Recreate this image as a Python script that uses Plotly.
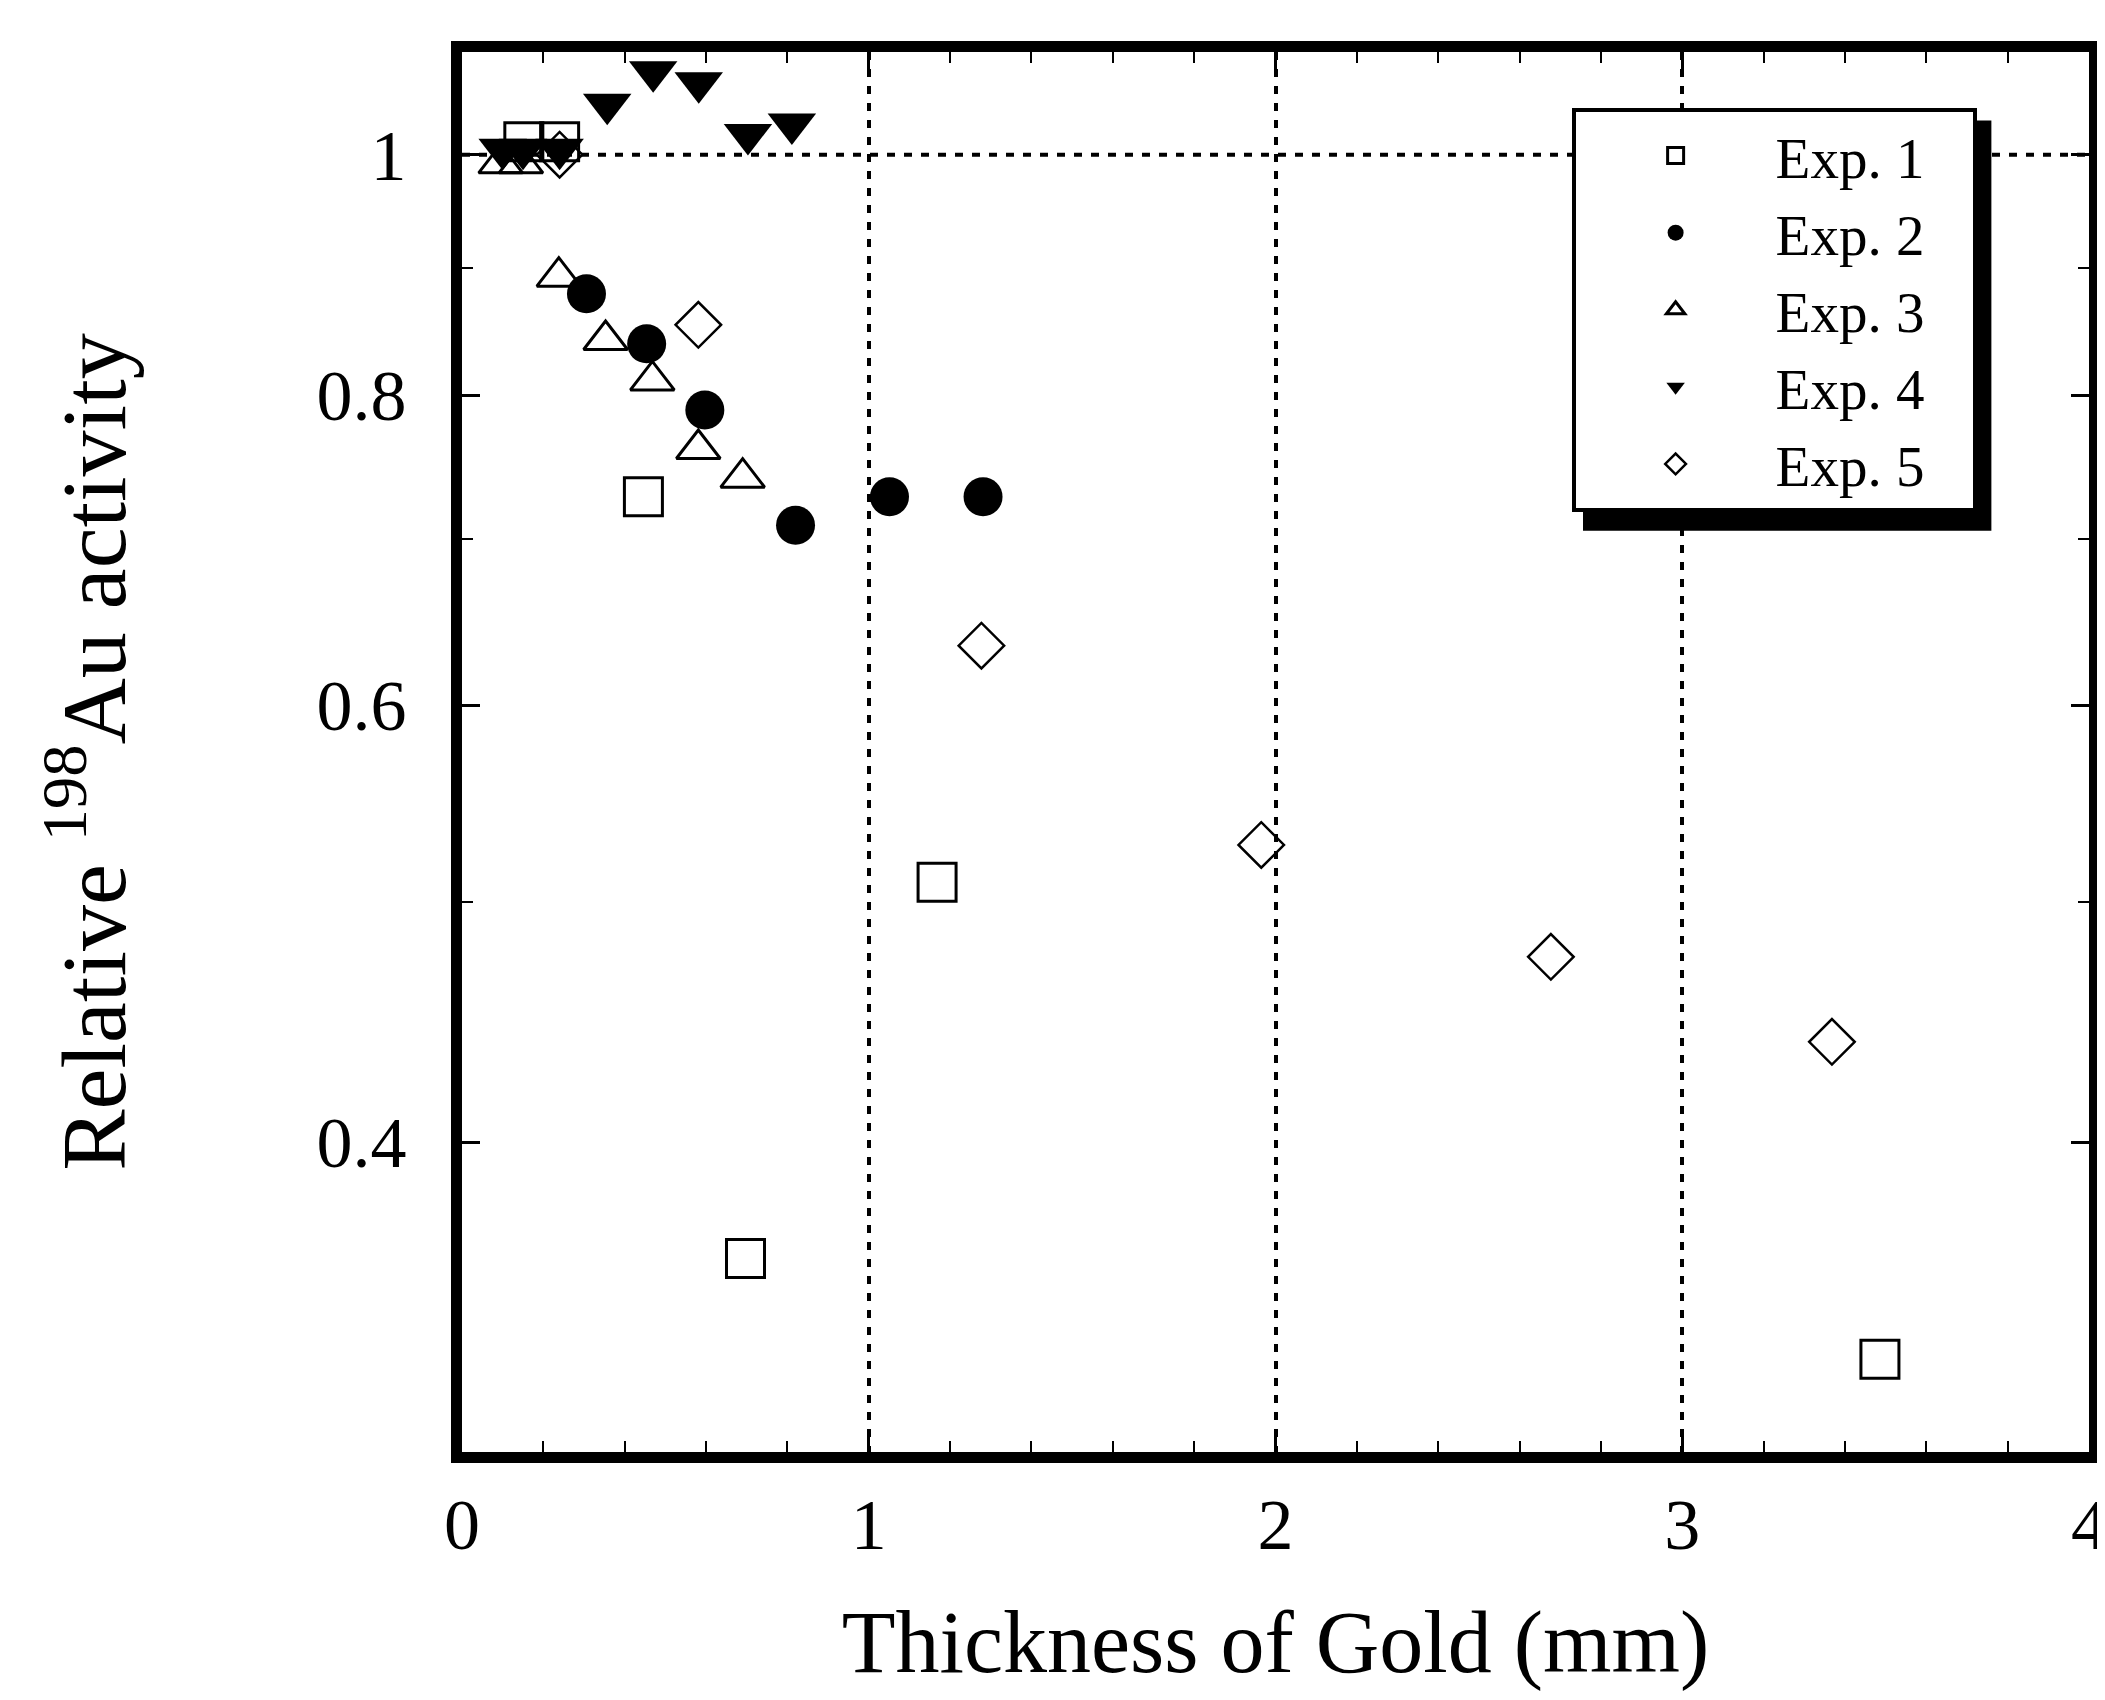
import math
import plotly.graph_objects as go

# Thickness of gold (mm) and relative 198Au activity for each experiment
exp1_x = [0.152, 0.240, 0.446, 0.697, 1.168, 3.486]
exp1_y = [1.012, 1.012, 0.728, 0.359, 0.509, 0.327]

exp2_x = [0.306, 0.454, 0.597, 0.820, 1.051, 1.281]
exp2_y = [0.879, 0.839, 0.789, 0.709, 0.728, 0.728]

exp3_x = [0.095, 0.145, 0.238, 0.353, 0.468, 0.581, 0.690]
exp3_y = [0.992, 0.992, 0.893, 0.842, 0.811, 0.761, 0.741]

exp4_x = [0.100, 0.150, 0.240, 0.357, 0.470, 0.582, 0.703, 0.811]
exp4_y = [1.005, 1.005, 1.005, 1.048, 1.080, 1.069, 1.019, 1.029]

exp5_x = [0.240, 0.581, 1.277, 1.965, 2.677, 3.368]
exp5_y = [1.000, 0.854, 0.634, 0.527, 0.475, 0.439]

series_names = ["Exp. 1", "Exp. 2", "Exp. 3", "Exp. 4", "Exp. 5"]

x_ticks = [0, 1, 2, 3, 4]
y_ticks = [0.4, 0.6, 0.8, 1.0]
y_ticktext = ["0.4", "0.6", "0.8", "1"]
y_minor = [0.3, 0.5, 0.7, 0.9]

FONT = "Liberation Serif"
GRID_DASH = "8px,9px"

fig = go.Figure()

styles = [
    dict(symbol="square-open", size=38, line=dict(width=3, color="black"), color="black"),
    dict(symbol="circle", size=39, color="black", line=dict(width=0)),
    dict(symbol="triangle-up-open", size=38, line=dict(width=3, color="black"), color="black"),
    dict(symbol="triangle-down", size=42, color="black", line=dict(width=0)),
    dict(symbol="diamond-open", size=35, line=dict(width=2.5, color="black"), color="black"),
]
data = [(exp1_x, exp1_y), (exp2_x, exp2_y), (exp3_x, exp3_y), (exp4_x, exp4_y), (exp5_x, exp5_y)]

for (xs, ys), name, st in zip(data, series_names, styles):
    fig.add_trace(go.Scatter(x=xs, y=ys, mode="markers", name=name + "\u00a0\u00a0\u00a0",
                             marker=st, cliponaxis=False))

fig.add_hline(y=1, line=dict(color="black", width=4, dash=GRID_DASH), layer="below")

# legend drop shadow
fig.add_shape(type="rect", xref="paper", yref="paper",
              x0=0.689, x1=0.940, y0=0.658, y1=0.951,
              fillcolor="black", line=dict(width=0), layer="above")

fig.update_layout(
    width=2105, height=1700,
    margin=dict(l=454, r=6, t=44, b=256),
    paper_bgcolor="white", plot_bgcolor="white",
    font=dict(family=FONT, color="black"),
    showlegend=True,
    legend=dict(
        x=0.682, y=0.960, xanchor="left", yanchor="top",
        bgcolor="white", bordercolor="black", borderwidth=4,
        font=dict(family=FONT, size=57, color="black"),
        itemwidth=190, tracegroupgap=0,
    ),
    xaxis=dict(
        range=[0, 4], tickvals=x_ticks, ticktext=[str(v) for v in x_ticks],
        ticks="inside", ticklen=18, tickwidth=3, tickcolor="black",
        minor=dict(dtick=0.2, ticks="inside", ticklen=11, tickwidth=2, tickcolor="black", showgrid=False),
        showline=True, linewidth=11, linecolor="black", mirror="ticks",
        showgrid=True, gridcolor="black", gridwidth=4, griddash=GRID_DASH,
        zeroline=False, ticklabeloverflow="allow",
        tickfont=dict(family=FONT, size=72, color="black"),
        title=dict(text="Thickness of Gold (mm)", font=dict(family=FONT, size=88, color="black"), standoff=50),
    ),
    yaxis=dict(
        type="log", range=[math.log10(0.3), math.log10(1.1)],
        tickvals=y_ticks, ticktext=y_ticktext,
        ticks="inside", ticklen=18, tickwidth=3, tickcolor="black",
        minor=dict(tickvals=y_minor, ticks="inside", ticklen=11, tickwidth=2, tickcolor="black", showgrid=False),
        showline=True, linewidth=11, linecolor="black", mirror="ticks",
        showgrid=False, zeroline=False,
        tickfont=dict(family=FONT, size=72, color="black"),
        ticklabelstandoff=30,
        title=dict(text="Relative <sup>198</sup>Au activity", font=dict(family=FONT, size=92, color="black"), standoff=165),
    ),
)

fig.write_html("out.html")
